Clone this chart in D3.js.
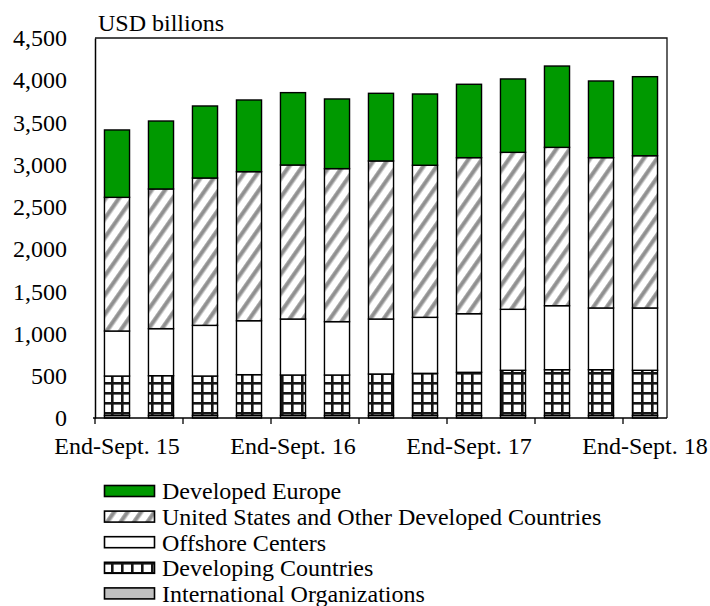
<!DOCTYPE html>
<html>
<head>
<meta charset="utf-8">
<script src="https://cdn.jsdelivr.net/npm/d3@7"></script>
<style>
  html, body { margin: 0; padding: 0; background: #fff; }
  svg text { font-family: "Liberation Serif", Tinos, "Times New Roman", "DejaVu Serif", serif; fill: #000; }
</style>
</head>
<body>
<svg id="chart" width="710" height="606"></svg>
<script>
// Quarter-end dates, Sept. 2015 to Sept. 2018
const categories = ["Sep-15","Dec-15","Mar-16","Jun-16","Sep-16","Dec-16","Mar-17",
                    "Jun-17","Sep-17","Dec-17","Mar-18","Jun-18","Sep-18"];
// Axis labels shown under selected quarters
const xTickLabels = ["End-Sept. 15", "End-Sept. 16", "End-Sept. 17", "End-Sept. 18"];
const xTickCategories = ["Sep-15", "Sep-16", "Sep-17", "Sep-18"];
const yTicks = [0, 500, 1000, 1500, 2000, 2500, 3000, 3500, 4000, 4500];

// Series values, USD billions (stacked bottom to top)
const internationalOrgs = [30, 30, 30, 30, 30, 30, 30, 30, 30, 30, 30, 30, 30];
const developingCountries = [467, 471, 467, 483, 479, 479, 491, 499, 511, 535, 542, 542, 535];
const offshoreCenters = [533, 557, 600, 639, 663, 632, 651, 663, 694, 722, 758, 731, 738];
const usOtherDeveloped = [1583, 1654, 1745, 1765, 1824, 1812, 1872, 1801, 1848, 1859, 1875, 1780, 1803];
const developedEurope = [798, 805, 853, 849, 857, 825, 801, 844, 869, 869, 963, 908, 936];

const seriesNames = ["International Organizations", "Developing Countries", "Offshore Centers",
                     "United States and Other Developed Countries", "Developed Europe"];
const seriesValues = [internationalOrgs, developingCountries, offshoreCenters, usOtherDeveloped, developedEurope];
const seriesFills = ["#c0c0c0", "url(#grid)", "#ffffff", "url(#hatch)", "#009900"];

const FONT = "'Liberation Serif', Tinos, 'Times New Roman', 'DejaVu Serif', serif";
const FONT_SIZE = "24px";
const svg = d3.select("#chart");
const plotLeft = 95, plotRight = 667, plotTop = 38, plotBottom = 418;

// Fill patterns
const defs = svg.append("defs");
const grid = defs.append("pattern").attr("id", "grid")
  .attr("patternUnits", "userSpaceOnUse").attr("width", 10).attr("height", 10)
  .attr("x", 1).attr("y", 2);
grid.append("rect").attr("width", 10).attr("height", 10).attr("fill", "#fff");
grid.append("rect").attr("x", 0).attr("y", 0).attr("width", 2.6).attr("height", 10).attr("fill", "#151515");
grid.append("rect").attr("x", 0).attr("y", 0).attr("width", 10).attr("height", 2.6).attr("fill", "#151515");

const hatch = defs.append("pattern").attr("id", "hatch")
  .attr("patternUnits", "userSpaceOnUse").attr("width", 11).attr("height", 11)
  .attr("patternTransform", "rotate(35)");
hatch.append("rect").attr("width", 11).attr("height", 11).attr("fill", "#fff");
hatch.append("rect").attr("x", 0).attr("width", 4.5).attr("height", 11).attr("fill", "#a6a6a6");
hatch.append("rect").attr("x", 1.2).attr("width", 2.1).attr("height", 11).attr("fill", "#8c8c8c");

// Scales
const x = d3.scaleBand().domain(categories).range([plotLeft, plotRight])
  .paddingInner(0.43).paddingOuter(0.215);
const y = d3.scaleLinear().domain([0, 4500]).range([plotBottom, plotTop]);

// Stacked data
const rows = categories.map((c, i) => {
  const r = { cat: c };
  seriesNames.forEach((s, k) => r[s] = seriesValues[k][i]);
  return r;
});
const stacked = d3.stack().keys(seriesNames)(rows);

// Bars
stacked.forEach((layer, k) => {
  svg.append("g").selectAll("rect").data(layer).join("rect")
    .attr("x", d => x(d.data.cat))
    .attr("y", d => y(d[1]))
    .attr("width", x.bandwidth())
    .attr("height", d => y(d[0]) - y(d[1]))
    .attr("fill", seriesFills[k])
    .attr("stroke", "#000")
    .attr("stroke-width", 1.4);
});

// Frame (top and right) and axes
svg.append("path")
  .attr("d", `M${plotLeft},${plotTop}H${plotRight}V${plotBottom}`)
  .attr("fill", "none").attr("stroke", "#111").attr("stroke-width", 1.3);

const yAxis = d3.axisLeft(y).tickValues(yTicks).tickSize(0).tickPadding(28)
  .tickFormat(d3.format(","));
const gy = svg.append("g").attr("transform", `translate(${plotLeft},0)`).call(yAxis);
gy.select(".domain").attr("stroke", "#000").attr("stroke-width", 1.5);
gy.selectAll("text").style("font-family", FONT).style("font-size", FONT_SIZE);

// X axis: ticks at every second category boundary, labels on selected quarters
const gap = x.step() * x.paddingInner() / 2;
const boundaries = categories.filter((c, i) => i % 2 === 0).map(c => x(c) - gap);
const gx = svg.append("g");
gx.append("line").attr("x1", plotLeft - 2).attr("x2", plotRight).attr("y1", plotBottom).attr("y2", plotBottom)
  .attr("stroke", "#000").attr("stroke-width", 1.5);
gx.selectAll("line.tick").data(boundaries).join("line").attr("class", "tick")
  .attr("x1", d => d).attr("x2", d => d).attr("y1", plotBottom).attr("y2", plotBottom + 6)
  .attr("stroke", "#000").attr("stroke-width", 1.3);
gx.selectAll("text").data(xTickCategories).join("text")
  .attr("x", d => x(d) + x.bandwidth() / 2)
  .attr("y", plotBottom + 36)
  .attr("text-anchor", "middle")
  .style("font-family", FONT).style("font-size", FONT_SIZE)
  .text((d, i) => xTickLabels[i]);

// Unit label
svg.append("text").attr("x", 98).attr("y", 31)
  .style("font-family", FONT).style("font-size", FONT_SIZE).text("USD billions");

// Legend (top to bottom: Europe first)
const legendOrder = [4, 3, 2, 1, 0];
const lg = svg.append("g");
legendOrder.forEach((k, j) => {
  const cy = 491 + j * 25.6;
  lg.append("rect").attr("x", 104.5).attr("y", cy - 5.5).attr("width", 50).attr("height", 11)
    .attr("fill", seriesFills[k]).attr("stroke", "#000").attr("stroke-width", 1.6);
  lg.append("text").attr("x", 162).attr("y", cy).attr("dy", "0.35em")
    .style("font-family", FONT).style("font-size", FONT_SIZE).text(seriesNames[k]);
});
</script>
</body>
</html>
